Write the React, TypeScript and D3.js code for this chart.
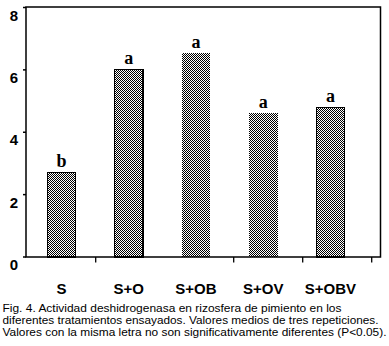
import React from "react";
import * as d3 from "d3";

const categories = ["S", "S+O", "S+OB", "S+OV", "S+OBV"];
const values = [2.72, 6.02, 6.53, 4.61, 4.8];
const letters = ["b", "a", "a", "a", "a"];
const yTicks = [0, 2, 4, 6, 8];
const caption = [
  "Fig. 4. Actividad deshidrogenasa en rizosfera de pimiento en los",
  "diferentes tratamientos ensayados. Valores medios de tres repeticiones.",
  "Valores con la misma letra no son significativamente diferentes (P<0.05).",
];

const W = 389;
const H = 346;
const outlined = new Set(["S", "S+O", "S+OBV"]);
const captionWidths = [339, 376, 384];

export default function App() {
  const y = d3.scaleLinear().domain([0, 8]).range([257, 7.5]);
  const xBar = d3.scaleLinear().domain([0, categories.length - 1]).range([61.5, 330.5]);
  const xTick = d3.scaleLinear().domain([0, 5]).range([26.7, 371.7]);
  const bw = 28.5;
  const left = 26;
  const right = 380.5;
  const top = 7;
  const bottom = y(0);
  const xTickIdx = [1, 3, 4, 5];

  return (
    <svg
      width={W}
      height={H}
      style={{ position: "absolute", left: 0, top: 0, background: "#fff", display: "block" }}
    >
      <defs>
        <pattern id="dots" width="2" height="2" patternUnits="userSpaceOnUse">
          <rect width="2" height="2" fill="#fff" />
          <rect x="0" y="0" width="1" height="1" fill="#000" />
          <rect x="1" y="1" width="1" height="1" fill="#000" />
        </pattern>
      </defs>
      <rect width={W} height={H} fill="#fff" />
      {categories.map((c, i) => {
        const x0 = xBar(i) - bw / 2;
        const yt = y(values[i]);
        return (
          <g key={c}>
            <rect
              x={x0}
              y={yt}
              width={bw}
              height={bottom - yt}
              fill="url(#dots)"
              stroke={outlined.has(c) ? "#000" : "none"}
              strokeWidth={1.3}
              shapeRendering="crispEdges"
            />
            <text
              x={xBar(i)}
              y={yt - 5}
              textAnchor="middle"
              fontFamily="'Liberation Serif', 'DejaVu Serif', serif"
              fontWeight="bold"
              fontSize={18}
              fill="#000"
            >
              {letters[i]}
            </text>
            <text
              x={xBar(i)}
              y={294}
              textAnchor="middle"
              fontFamily="'Liberation Sans', Arial, sans-serif"
              fontWeight="bold"
              fontSize={15}
              fill="#000"
            >
              {c}
            </text>
          </g>
        );
      })}
      <path
        d={`M${left},${top}H${right}V${bottom}H${left}Z`}
        fill="none"
        stroke="#000"
        strokeWidth={1.5}
      />
      {yTicks.map((t) => (
        <g key={t}>
          <line x1={left - 3} x2={left} y1={y(t)} y2={y(t)} stroke="#000" strokeWidth={1.5} />
          <text
            x={14}
            y={y(t) + 13}
            textAnchor="middle"
            fontFamily="'Liberation Sans', Arial, sans-serif"
            fontWeight="bold"
            fontSize={15}
            fill="#000"
          >
            {t}
          </text>
        </g>
      ))}
      {xTickIdx.map((k) => (
        <line
          key={k}
          x1={xTick(k)}
          x2={xTick(k)}
          y1={bottom}
          y2={bottom + 5.5}
          stroke="#000"
          strokeWidth={1.3}
        />
      ))}
      {caption.map((line, i) => (
        <text
          key={i}
          x={2.5}
          y={312 + i * 12}
          fontFamily="'Liberation Sans', Arial, sans-serif"
          fontSize={11}
          textLength={captionWidths[i]}
          lengthAdjust="spacingAndGlyphs"
          fill="#000"
        >
          {line}
        </text>
      ))}
    </svg>
  );
}
